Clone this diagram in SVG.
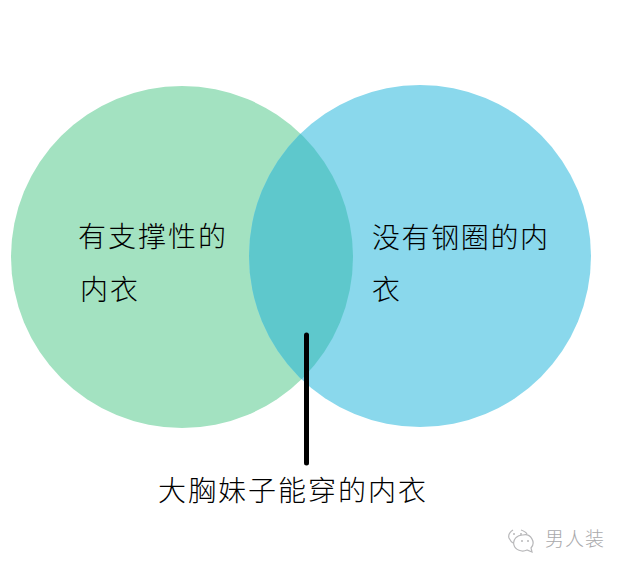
<svg xmlns="http://www.w3.org/2000/svg" width="625" height="569" viewBox="0 0 625 569">
<style>
.t{font-family:"Noto Sans CJK SC","Noto Sans CJK JP",sans-serif;font-size:28px;font-weight:300;fill:#000;letter-spacing:2px}
.w{font-family:"Noto Sans CJK SC","Noto Sans CJK JP",sans-serif;font-size:19px;font-weight:300;fill:#a9a9ab;letter-spacing:1px}
.i{fill:none;stroke:#b8b8ba;stroke-width:1.2}
.d{fill:#b8b8ba}
</style>
<defs><clipPath id="c"><circle cx="420" cy="256" r="171"/></clipPath></defs>
<rect width="625" height="569" fill="#fff"/>
<g id="left-set"><circle cx="182" cy="257" r="171" fill="#a3e2c1"/><text class="t" x="78" y="247">有支撑性的</text><text class="t" x="80" y="300">内衣</text></g>
<g id="right-set"><circle cx="420" cy="256" r="171" fill="#8ad8ec"/><text class="t" x="372" y="248" style="letter-spacing:1.600px">没有钢圈的内</text><text class="t" x="372" y="300">衣</text></g>
<g id="overlap"><circle cx="182" cy="257" r="171" fill="#5ec8cc" clip-path="url(#c)"/></g>
<g id="connectors"><line x1="306.500" y1="335" x2="306.500" y2="463" stroke="#000" stroke-width="5" stroke-linecap="round"/></g>
<g id="intersection-label"><text class="t" x="158" y="501">大胸妹子能穿的内衣</text></g>
<g id="watermark">
<path class="i" d="M513 530c-3 2-5 5-4 8 1 2 2 4 4 5M521 530c3 1 5 2 6 4M523 535a9 8 0 1 0 4 15l5 2-1-4a8 8 0 0 0-8-13z"/>
<circle class="d" cx="514" cy="534" r="1"/><circle class="d" cx="521" cy="534" r="1"/><circle class="d" cx="522" cy="541" r="1"/><circle class="d" cx="528" cy="541" r="1"/>
<text class="w" x="545" y="546">男人装</text></g>
</svg>
